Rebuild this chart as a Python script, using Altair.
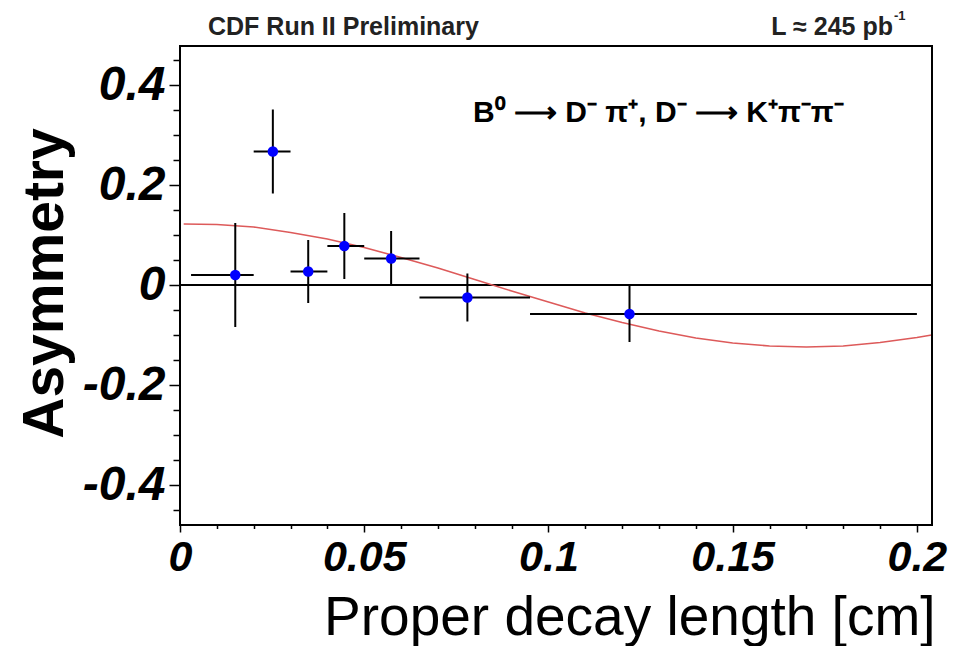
import altair as alt
import pandas as pd

# ---- data ----
x_center = [0.015, 0.0252, 0.0348, 0.0446, 0.0573, 0.078, 0.122]
x_low = [0.003, 0.020, 0.030, 0.040, 0.050, 0.065, 0.095]
x_high = [0.020, 0.030, 0.040, 0.050, 0.065, 0.095, 0.200]
asym = [0.020, 0.267, 0.027, 0.078, 0.053, -0.025, -0.058]
asym_err = [0.104, 0.084, 0.063, 0.066, 0.055, 0.048, 0.056]

fit_x = [0.001, 0.01, 0.02, 0.03, 0.04, 0.05, 0.06, 0.07, 0.08, 0.09, 0.10,
         0.11, 0.12, 0.13, 0.14, 0.15, 0.16, 0.17, 0.18, 0.19, 0.20, 0.204]
fit_y = [0.122, 0.121, 0.116, 0.105, 0.092, 0.075, 0.055, 0.034, 0.011, -0.012,
         -0.034, -0.056, -0.075, -0.092, -0.106, -0.116, -0.122, -0.124, -0.122,
         -0.115, -0.105, -0.100]

x_major = [0, 0.05, 0.1, 0.15, 0.2]
x_minor = [0.01, 0.02, 0.03, 0.04, 0.06, 0.07, 0.08, 0.09, 0.11, 0.12, 0.13,
           0.14, 0.16, 0.17, 0.18, 0.19]
y_major = [-0.4, -0.2, 0, 0.2, 0.4]
y_minor = [-0.45, -0.35, -0.3, -0.25, -0.15, -0.1, -0.05, 0.05, 0.1, 0.15,
           0.25, 0.3, 0.35, 0.45]

df = pd.DataFrame({
    "x": x_center, "xlo": x_low, "xhi": x_high, "a": asym,
    "lo": [a - e for a, e in zip(asym, asym_err)],
    "hi": [a + e for a, e in zip(asym, asym_err)],
})
fit = pd.DataFrame({"x": fit_x, "y": fit_y})

W, H = 752, 479
FONT = "Liberation Sans"
xs = alt.Scale(domain=[0, 0.2041], nice=False, zero=False)
ys = alt.Scale(domain=[-0.48, 0.478], nice=False, zero=False)

ax_x_major = alt.Axis(
    orient="bottom", values=x_major, format="~g", domain=False,
    tickSize=7, tickWidth=1.5, tickColor="black", grid=False,
    labelFont=FONT, labelFontSize=43, labelFontStyle="italic",
    labelFontWeight="bold", labelColor="black", labelBaseline="alphabetic",
    labelPadding=38, labelFlush=False, labelOverlap=False,
    title="Proper decay length [cm]", titleFont=FONT, titleFontSize=55,
    titleFontWeight="normal", titleColor="black", titleAlign="right",
    titleAnchor="end", titleBaseline="alphabetic", titleX=755, titleY=109,
)
ax_x_minor = alt.Axis(
    orient="bottom", values=x_minor, domain=False, labels=False, title=None,
    tickSize=3.5, tickWidth=1.5, tickColor="black", grid=False,
)
ax_y_major = alt.Axis(
    orient="left", values=y_major, domain=False,
    labelExpr="datum.value < 0 ? '-' + format(-datum.value, '~g') : format(datum.value, '~g')",
    tickSize=11, tickWidth=1.5, tickColor="black", grid=False,
    labelFont=FONT, labelFontSize=48, labelFontStyle="italic",
    labelFontWeight="bold", labelColor="black", labelPadding=4,
    labelFlush=False, labelOverlap=False,
    title="Asymmetry", titleFont=FONT, titleFontSize=57,
    titleFontWeight="bold", titleColor="black", titleAngle=-90,
    titleAlign="center", titleBaseline="alphabetic", titleX=-118, titleY=237,
)
ax_y_minor = alt.Axis(
    orient="left", values=y_minor, domain=False, labels=False, title=None,
    tickSize=7, tickWidth=1.5, tickColor="black", grid=False,
)

axes_major = alt.Chart(df).mark_point(opacity=0).encode(
    x=alt.X("x:Q", scale=xs, axis=ax_x_major),
    y=alt.Y("a:Q", scale=ys, axis=ax_y_major),
)
axes_minor = alt.Chart(df).mark_point(opacity=0).encode(
    x=alt.X("x:Q", scale=xs, axis=ax_x_minor),
    y=alt.Y("a:Q", scale=ys, axis=ax_y_minor),
)

frame = alt.Chart(pd.DataFrame({"f": [0]})).mark_rect(
    fill=None, fillOpacity=0, stroke="black", strokeWidth=2).encode(
    x=alt.value(0), x2=alt.value(W), y=alt.value(0), y2=alt.value(H))

zero = alt.Chart(pd.DataFrame({"y": [0.0]})).mark_rule(
    color="black", strokeWidth=2).encode(
    y=alt.Y("y:Q", scale=ys, axis=None))

curve = alt.Chart(fit).mark_line(color="#dd5a5a", strokeWidth=1.6).encode(
    x=alt.X("x:Q", scale=xs, axis=None),
    y=alt.Y("y:Q", scale=ys, axis=None),
)

vbars = alt.Chart(df).mark_rule(color="black", strokeWidth=2).encode(
    x=alt.X("x:Q", scale=xs, axis=None),
    y=alt.Y("lo:Q", scale=ys, axis=None), y2="hi:Q",
)
hbars = alt.Chart(df).mark_rule(color="black", strokeWidth=2).encode(
    x=alt.X("xlo:Q", scale=xs, axis=None), x2="xhi:Q",
    y=alt.Y("a:Q", scale=ys, axis=None),
)
points = alt.Chart(df).mark_circle(color="#0000ff", opacity=1, size=110).encode(
    x=alt.X("x:Q", scale=xs, axis=None),
    y=alt.Y("a:Q", scale=ys, axis=None),
)

# annotations
t_cdf = alt.Chart(pd.DataFrame({"t": ["CDF Run II Preliminary"]})).mark_text(
    font=FONT, fontSize=25, fontWeight="bold", align="left",
    baseline="alphabetic", color="#222222").encode(
    text="t:N", x=alt.value(28), y=alt.value(-11))
t_lum = alt.Chart(pd.DataFrame({"t": ["L ≈ 245 pb"]})).mark_text(
    font=FONT, fontSize=25, fontWeight="bold", align="right",
    baseline="alphabetic", color="#222222").encode(
    text="t:N", x=alt.value(713), y=alt.value(-11))
t_lum_sup = alt.Chart(pd.DataFrame({"t": ["-1"]})).mark_text(
    font=FONT, fontSize=13, fontWeight="bold", align="left",
    baseline="alphabetic", color="#222222").encode(
    text="t:N", x=alt.value(714), y=alt.value(-26))

t_decay = alt.Chart(pd.DataFrame({
    "t": ["B⁰ ⟶ D⁻ π⁺, D⁻ ⟶ K⁺π⁻π⁻"], "x": [0.0795], "y": [0.326]})).mark_text(
    font=FONT, fontSize=30, fontWeight="bold", align="left",
    baseline="alphabetic", color="black").encode(
    text="t:N",
    x=alt.X("x:Q", scale=xs, axis=None),
    y=alt.Y("y:Q", scale=ys, axis=None),
)

chart = alt.layer(
    axes_major, axes_minor, zero, curve, vbars, hbars, points, frame,
    t_decay, t_cdf, t_lum, t_lum_sup,
).resolve_axis(x="independent", y="independent").properties(
    width=W, height=H,
    autosize=alt.AutoSizeParams(type="none"),
    padding={"left": 172, "top": 38, "right": 16, "bottom": 121},
).configure_view(stroke=None).configure(background="white")

chart.save("out.html", embed_options={"renderer": "svg", "actions": False})
